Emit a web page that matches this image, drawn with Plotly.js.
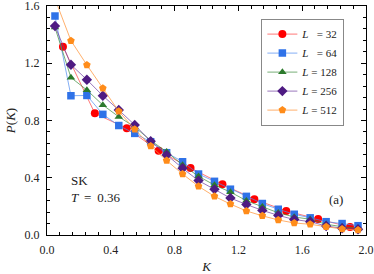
<!DOCTYPE html>
<html>
<head>
<meta charset="utf-8">
<script src="https://cdn.plot.ly/plotly-3.0.1.min.js"></script>
<style>html,body{margin:0;padding:0;background:#fff;}#chart{width:374px;height:274px;}</style>
</head>
<body>
<div id="chart"></div>
<script>
// K grids
const K_32 = [0.1, 0.3, 0.5, 0.7, 0.9, 1.1, 1.3, 1.5, 1.7, 1.9];
const K_other = [0.05, 0.15, 0.25, 0.35, 0.45, 0.55, 0.65, 0.75, 0.85, 0.95,
                 1.05, 1.15, 1.25, 1.35, 1.45, 1.55, 1.65, 1.75, 1.85, 1.95];
// P(K) values
const P_32  = [1.316, 0.85, 0.745, 0.589, 0.468, 0.354, 0.25, 0.168, 0.111, 0.056];
const P_64  = [1.53, 0.973, 0.975, 0.843, 0.765, 0.71, 0.652, 0.575, 0.512, 0.426,
               0.375, 0.32, 0.27, 0.22, 0.18, 0.145, 0.12, 0.093, 0.08, 0.065];
const P_128 = [1.45, 1.10, 1.013, 0.908, 0.826, 0.755, 0.66, 0.582, 0.489, 0.41,
               0.349, 0.30, 0.24, 0.198, 0.155, 0.126, 0.11, 0.075, 0.058, 0.047];
const P_256 = [1.46, 1.19, 1.085, 0.973, 0.873, 0.769, 0.655, 0.559, 0.466, 0.38,
               0.319, 0.258, 0.213, 0.172, 0.137, 0.108, 0.093, 0.063, 0.047, 0.04];
const P_512 = [1.65, 1.358, 1.188, 1.025, 0.864, 0.739, 0.622, 0.52, 0.426, 0.34,
               0.27, 0.216, 0.168, 0.134, 0.105, 0.084, 0.075, 0.058, 0.042, 0.035];
const labels = ['<i>L</i>\u2007 = 32', '<i>L</i>\u2007 = 64', '<i>L</i> = 128', '<i>L</i> = 256', '<i>L</i> = 512'];
const xTicks = [0.0, 0.4, 0.8, 1.2, 1.6, 2.0];
const yTicks = [0.0, 0.4, 0.8, 1.2, 1.6];

const FONT = 'Liberation Serif, DejaVu Serif, serif';
const specs = [
  {x: K_32, y: P_32, color: '#ff0000', line: 'rgba(255,60,60,0.7)', symbol: 'circle', size: 8},
  {x: K_other, y: P_64, color: '#2f72e8', line: 'rgba(80,140,240,0.7)', symbol: 'square', size: 7.5},
  {x: K_other, y: P_128, color: '#2c7a2c', line: 'rgba(60,140,60,0.7)', symbol: 'triangle-up', size: 7.5},
  {x: K_other, y: P_256, color: '#4e1a82', line: 'rgba(110,60,160,0.7)', symbol: 'diamond', size: 8},
  {x: K_other, y: P_512, color: '#ff8c1a', line: 'rgba(255,150,60,0.75)', symbol: 'pentagon', size: 8}
];
const traces = specs.map((s, i) => ({
  type: 'scatter', mode: 'lines+markers', x: s.x, y: s.y, name: labels[i],
  line: {color: s.line, width: 1},
  marker: {color: s.color, symbol: s.symbol, size: s.size, line: {width: 0}},
  cliponaxis: true
}));

const axisCommon = {
  showgrid: false, zeroline: false, showline: true, linecolor: '#000', linewidth: 1,
  mirror: 'allticks', ticks: 'inside', ticklen: 5, tickwidth: 1, tickcolor: '#000',
  tickfont: {family: FONT, size: 12, color: '#222'}, tickformat: '.1f',
  ticklabeloverflow: 'allow',
  minor: {ticks: 'inside', ticklen: 3, tickwidth: 1, tickcolor: '#000', dtick: 0.08, showgrid: false}
};

const layout = {
  width: 374, height: 274,
  margin: {l: 47, r: 8, t: 6, b: 39},
  paper_bgcolor: '#fff', plot_bgcolor: '#fff',
  showlegend: true,
  font: {family: FONT, size: 12, color: '#222'},
  xaxis: Object.assign({}, axisCommon, {
    range: [0, 2], tickvals: xTicks,
    ticklabelstandoff: 4,
    title: {text: '<i>K</i>', font: {family: FONT, size: 13}, standoff: 8}
  }),
  yaxis: Object.assign({}, axisCommon, {
    range: [0, 1.6], tickvals: yTicks,
    ticklabelstandoff: 4,
    title: {text: '<i>P</i>(<i>K</i>)', font: {family: FONT, size: 13}, standoff: 6}
  }),
  legend: {
    x: 0.672, y: 0.945, xanchor: 'left', yanchor: 'top',
    bgcolor: '#fff', bordercolor: '#888', borderwidth: 1,
    font: {family: FONT, size: 11, color: '#222'},
    tracegroupgap: 0, itemwidth: 30
  },
  annotations: [
    {x: 0.135, y: 0.384, xref: 'x', yref: 'y', text: 'SK', showarrow: false, xanchor: 'left', yanchor: 'middle', font: {family: FONT, size: 13}},
    {x: 0.135, y: 0.26, xref: 'x', yref: 'y', text: '<i>T</i>\u2009 = \u20090.36', showarrow: false, xanchor: 'left', yanchor: 'middle', font: {family: FONT, size: 13}},
    {x: 1.81, y: 0.245, xref: 'x', yref: 'y', text: '(a)', showarrow: false, xanchor: 'center', yanchor: 'middle', font: {family: FONT, size: 13}}
  ]
};

Plotly.newPlot('chart', traces, layout, {staticPlot: true, displayModeBar: false});
</script>
</body>
</html>
